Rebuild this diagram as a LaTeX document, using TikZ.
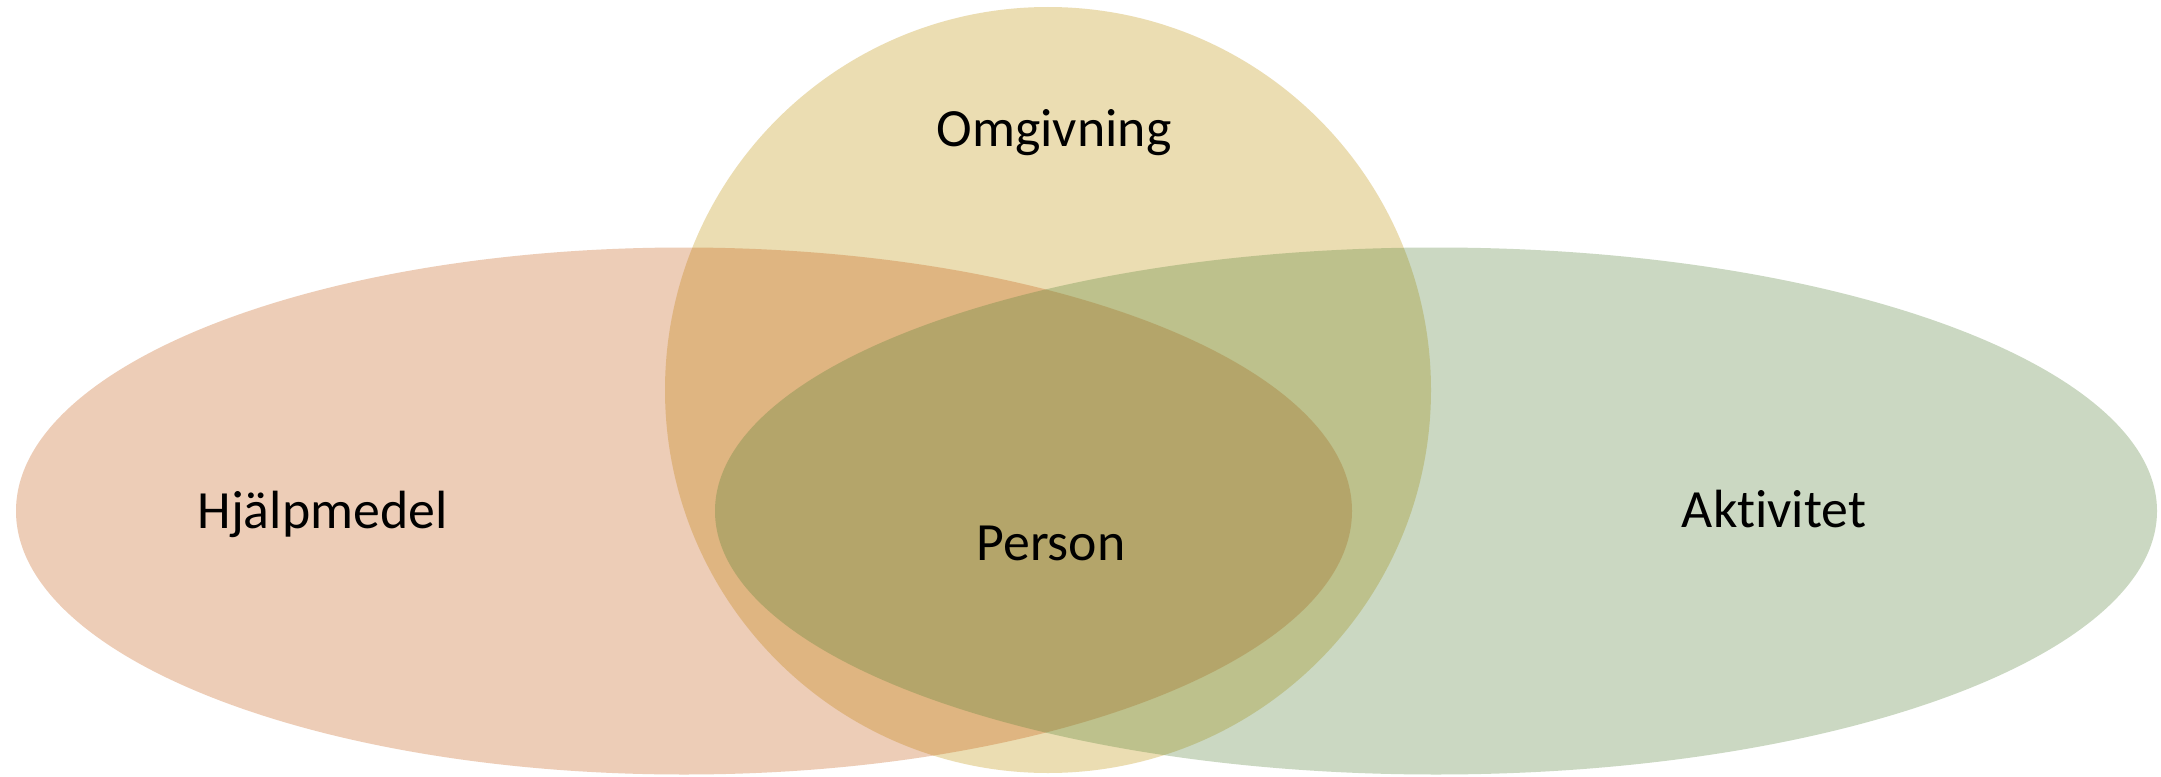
\documentclass[tikz,border=0pt]{standalone}
\usepackage{fontspec}
\setmainfont[Ligatures={NoCommon,NoRare,NoDiscretionary}]{Carlito}
\definecolor{hjcol}{HTML}{C55A11}
\definecolor{omcol}{HTML}{BF9000}
\definecolor{akcol}{HTML}{538135}
\begin{document}
\begin{tikzpicture}[x=1bp,y=-1bp,
  setshape/.style={fill opacity=0.3, draw=none},
  lbl/.style={anchor=base, font=\fontsize{54}{60}\selectfont, text=black, inner sep=0pt}]
\useasboundingbox[fill=white] (0,0) rectangle (2161,777);
\fill[setshape, fill=omcol] (1048,390) circle [radius=383];
\fill[setshape, fill=hjcol] (684,511) ellipse [x radius=668, y radius=263.5];
\fill[setshape, fill=akcol] (1436,511) ellipse [x radius=721, y radius=263.5];
\node[lbl] (omg) at (1054,146) {Omgivning};
\node[lbl] (hjm) at (322.5,528) {Hjälpmedel};
\node[lbl] (akt) at (1774,527) {Aktivitet};
\node[lbl] (per) at (1051,560) {Person};
\end{tikzpicture}
\end{document}
